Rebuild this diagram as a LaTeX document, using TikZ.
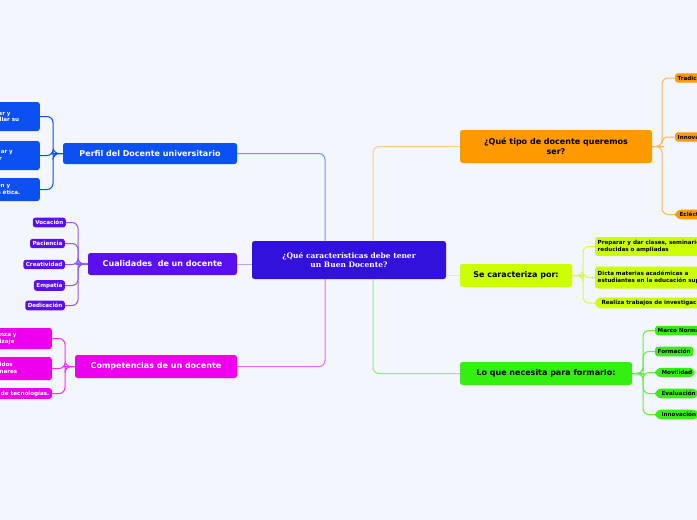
\documentclass[tikz,border=0pt]{standalone}
\usepackage{fontspec}
\setmainfont{DejaVu Sans}
\newfontfamily\serifbold{DejaVu Serif}
\usetikzlibrary{positioning,calc}
\definecolor{bgc}{HTML}{F3F6FD}
\definecolor{cmain}{HTML}{3311DD}
\definecolor{cperf}{HTML}{0B50F0}
\definecolor{ccual}{HTML}{5A10EE}
\definecolor{ccomp}{HTML}{EE00EE}
\definecolor{ctipo}{HTML}{FF9900}
\definecolor{ccar}{HTML}{CCFF00}
\definecolor{cnec}{HTML}{33F011}
\tikzset{
  topic/.style={rounded corners=2.5pt, inner sep=3pt, font=\bfseries\fontsize{8}{9.5}\selectfont, align=center},
  leaf/.style={rounded corners=2.5pt, inner sep=2.5pt, font=\bfseries\fontsize{5.6}{6.6}\selectfont, align=left},
  link/.style={line width=1pt, rounded corners=6pt},
}
\newcommand{\bracketL}[4]{% parent, color, list of children, x of bar
  \foreach \c in {#3}{\draw[link,#2] (#1.west) -- ++(-6pt,0) -| (#4,0 |- \c.east) -- (\c.east);}}
\newcommand{\bracketR}[4]{%
  \foreach \c in {#3}{\draw[link,#2] (#1.east) -- ++(6pt,0) -| (#4,0 |- \c.west) -- (\c.west);}}
\begin{document}
\begin{tikzpicture}[x=1pt,y=-1pt]
\fill[bgc] (0,0) rectangle (697,520);
\useasboundingbox (0,0) rectangle (697,520);
\clip (0,0) rectangle (697,520);

% Central topic
\node[fill=cmain, text=white, rounded corners=2.5pt, minimum width=194, minimum height=38, font=\serifbold\bfseries\fontsize{7.5}{9}\selectfont, align=center] (center) at (349,260) {¿Qué características debe tener\\un Buen Docente?};

% Left branches
\node[topic, fill=cperf, text=white, minimum width=174, minimum height=21] (perfil) at (150,153.5) {Perfil del Docente universitario};
\node[topic, fill=ccual, text=white, minimum width=149, minimum height=22] (cual) at (162.5,264) {Cualidades \ de un docente};
\node[topic, fill=ccomp, text=white, minimum width=162, minimum height=23] (comp) at (156,366.5) {Competencias de un docente};

\draw[link, cperf!60] (perfil.east) -| (325,241);
\draw[link, ccual!40] (cual.east) -- (center.west |- cual.east);
\draw[link, ccomp!60] (comp.east) -| (325,279);

% Right branches
\node[topic, fill=ctipo, text=black, minimum width=192, minimum height=33] (tipo) at (556,146.5) {¿Qué tipo de docente queremos\\ser?};
\node[topic, fill=ccar, text=black, minimum width=112, minimum height=23] (carac) at (516,275.5) {Se caracteriza por:};
\node[topic, fill=cnec, text=black, minimum width=172, minimum height=23] (nec) at (546,373.5) {Lo que necesita para formarlo:};

\draw[link, ctipo!50] (373,241) |- (tipo.west);
\draw[link, ccar!60] (center.east |- carac.west) -- (carac.west);
\draw[link, cnec!60] (373,279) |- (nec.west);

% Perfil leaves
\node[leaf, fill=cperf, text=white, anchor=east, minimum height=29, text width=62] (p1) at (40,116.5) {Planificar y\\desarrollar su};
\node[leaf, fill=cperf, text=white, anchor=east, minimum height=29, text width=62] (p2) at (40,155.5) {Investigar y\\producir};
\node[leaf, fill=cperf, text=white, anchor=east, minimum height=23, text width=62] (p3) at (40,189.5) {Reflexión y\\práctica ética.};
\bracketL{perfil}{cperf}{p1,p2,p3}{53}

% Cualidades leaves
\node[leaf, fill=ccual, text=white, anchor=east] (c1) at (66,222.5) {Vocación};
\node[leaf, fill=ccual, text=white, anchor=east] (c2) at (65,243.5) {Paciencia};
\node[leaf, fill=ccual, text=white, anchor=east] (c3) at (65,264.5) {Creatividad};
\node[leaf, fill=ccual, text=white, anchor=east] (c4) at (65,285.5) {Empatía};
\node[leaf, fill=ccual, text=white, anchor=east] (c5) at (65,305.5) {Dedicación};
\bracketL{cual}{ccual!70}{c1,c2,c3,c4,c5}{78}

% Competencias leaves
\node[leaf, fill=ccomp, text=white, anchor=east, minimum height=21, text width=72] (m1) at (52,338.5) {Enseñanza y\\aprendizaje};
\node[leaf, fill=ccomp, text=white, anchor=east, minimum height=23, text width=72] (m2) at (52,368.5) {Contenidos\\disciplinares};
\node[leaf, fill=ccomp, text=white, anchor=east] (m3) at (52,393.5) {Uso de tecnologías.};
\bracketL{comp}{ccomp!80}{m1,m2,m3}{65}

% Tipo leaves
\node[leaf, fill=ctipo, anchor=west] (t1) at (675,78) {Tradicional};
\node[leaf, fill=ctipo, anchor=west] (t2) at (675,137) {Innovador};
\node[leaf, fill=ctipo, anchor=west, rounded corners=6pt] (t3) at (675,214.5) {\ Ecléctico};
\bracketR{tipo}{ctipo!70}{t1,t2,t3}{662}

% Caracteriza leaves
\node[leaf, fill=ccar, anchor=west, minimum height=19] (s1) at (595,246.5) {Preparar y dar clases, seminarios\\reducidas o ampliadas};
\node[leaf, fill=ccar, anchor=west, minimum height=22] (s2) at (595,277.5) {Dicta materias académicas a\\estudiantes en la educación superior};
\node[leaf, fill=ccar, anchor=west, rounded corners=6pt] (s3) at (595,303) {\ \ Realiza trabajos de investigación};
\bracketR{carac}{ccar!80}{s1,s2,s3}{583}

% Necesita leaves
\node[leaf, fill=cnec, anchor=west] (n1) at (655,330.5) {Marco Normativo};
\node[leaf, fill=cnec, anchor=west] (n2) at (655,351.5) {Formación};
\node[leaf, fill=cnec, anchor=west, rounded corners=6pt] (n3) at (655,372.5) {\ \ Movilidad};
\node[leaf, fill=cnec, anchor=west, rounded corners=6pt] (n4) at (655,393.5) {\ \ Evaluación};
\node[leaf, fill=cnec, anchor=west, rounded corners=6pt] (n5) at (655,414.5) {\ \ Innovación};
\bracketR{nec}{cnec!80}{n1,n2,n3,n4,n5}{643}
\end{tikzpicture}
\end{document}
